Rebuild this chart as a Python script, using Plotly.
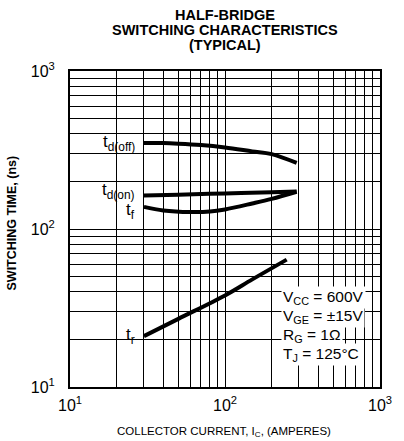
import numpy as np
import plotly.graph_objects as go

# ---- data ----
td_off_x = [30, 40, 50, 70, 100, 150, 200, 290]
td_off_y = [350, 350, 347, 340, 328, 310, 298, 262]

td_on_x = [30, 50, 100, 200, 290]
td_on_y = [163, 165, 168, 171, 173]

tf_x = [30, 40, 60, 80, 100, 150, 200, 290]
tf_y = [138, 131, 128, 129, 133, 145, 155, 172]

tr_x = [30, 50, 100, 150, 250]
tr_y = [21, 27, 38, 48, 64]

series_labels = ["t<sub>d(off)</sub>", "t<sub>d(on)</sub>", "t<sub>f</sub>", "t<sub>r</sub>"]
label_shift = [0, 4, -4, 0]

grid_vals = [m * 10 ** e for e in (1, 2) for m in range(1, 10)] + [1000]
grid_text = ["10<sup>1</sup>"] + [""] * 8 + ["10<sup>2</sup>"] + [""] * 8 + ["10<sup>3</sup>"]

title_lines = ["HALF-BRIDGE", "SWITCHING CHARACTERISTICS", "(TYPICAL)"]
cond_lines = ["V<sub>CC</sub> = 600V", "V<sub>GE</sub> = \u00b115V",
              "R<sub>G</sub> = 1\u03a9", "T<sub>J</sub> = 125\u00b0C"]

W, H = 404, 441
L, R, T, B = 70, 16, 71, 54
PW, PH = W - L - R, H - T - B

def px_x(x):
    return (x - L) / PW

def px_y(y):
    return (H - B - y) / PH

FONT = "Liberation Sans, Arial, sans-serif"

fig = go.Figure()
series = [(td_off_x, td_off_y), (td_on_x, td_on_y), (tf_x, tf_y), (tr_x, tr_y)]
for (xs, ys) in series:
    fig.add_trace(go.Scatter(x=xs, y=ys, mode="lines",
                             line=dict(color="black", width=4, shape="spline"),
                             showlegend=False, hoverinfo="skip"))

ann = []
for (xs, ys), lab, sh in zip(series, series_labels, label_shift):
    ann.append(dict(x=np.log10(xs[0]), y=np.log10(ys[0]), xref="x", yref="y",
                    text=lab, showarrow=False, xanchor="right", yanchor="middle",
                    xshift=-7, yshift=sh, font=dict(family=FONT, size=17, color="black")))

title_y = [15, 30.5, 44.5]
for t, yy in zip(title_lines, title_y):
    ann.append(dict(x=0.5, y=px_y(yy), xref="paper", yref="paper", text="<b>" + t + "</b>",
                    showarrow=False, xanchor="center", yanchor="middle",
                    font=dict(family=FONT, size=14.5, color="black")))

cond_y = [297, 316, 335, 354]
for t, yy in zip(cond_lines, cond_y):
    ann.append(dict(x=px_x(286), y=px_y(yy), xref="paper", yref="paper", text=t,
                    showarrow=False, xanchor="left", yanchor="middle", bgcolor="white",
                    borderpad=1, font=dict(family=FONT, size=15.5, color="black")))

ann.append(dict(x=px_x(10), y=px_y(223), xref="paper", yref="paper",
                text="<b>SWITCHING TIME, (ns)</b>", textangle=-90, showarrow=False,
                xanchor="center", yanchor="middle",
                font=dict(family=FONT, size=12.5, color="black")))
ann.append(dict(x=px_x(228), y=px_y(432), xref="paper", yref="paper",
                text="COLLECTOR CURRENT, I<sub>C</sub>, (AMPERES)", showarrow=False,
                xanchor="center", yanchor="middle",
                font=dict(family=FONT, size=11.5, color="black")))

axis_common = dict(type="log", tickmode="array", tickvals=grid_vals, ticktext=grid_text,
                   showgrid=True, gridcolor="black", gridwidth=1,
                   showline=True, linecolor="black", linewidth=2, mirror=True,
                   ticks="", zeroline=False,
                   tickfont=dict(family=FONT, size=16, color="black"))

fig.update_layout(
    width=W, height=H,
    margin=dict(l=L, r=R, t=T, b=B, pad=0),
    paper_bgcolor="white", plot_bgcolor="white",
    xaxis=dict(range=[1, 3], ticklabelstandoff=3, **axis_common),
    yaxis=dict(range=[1, 3], ticklabelstandoff=10, **axis_common),
    annotations=ann,
)

fig.write_html("out.html", config={"displayModeBar": False},
               post_script="document.body.style.margin='0';")
